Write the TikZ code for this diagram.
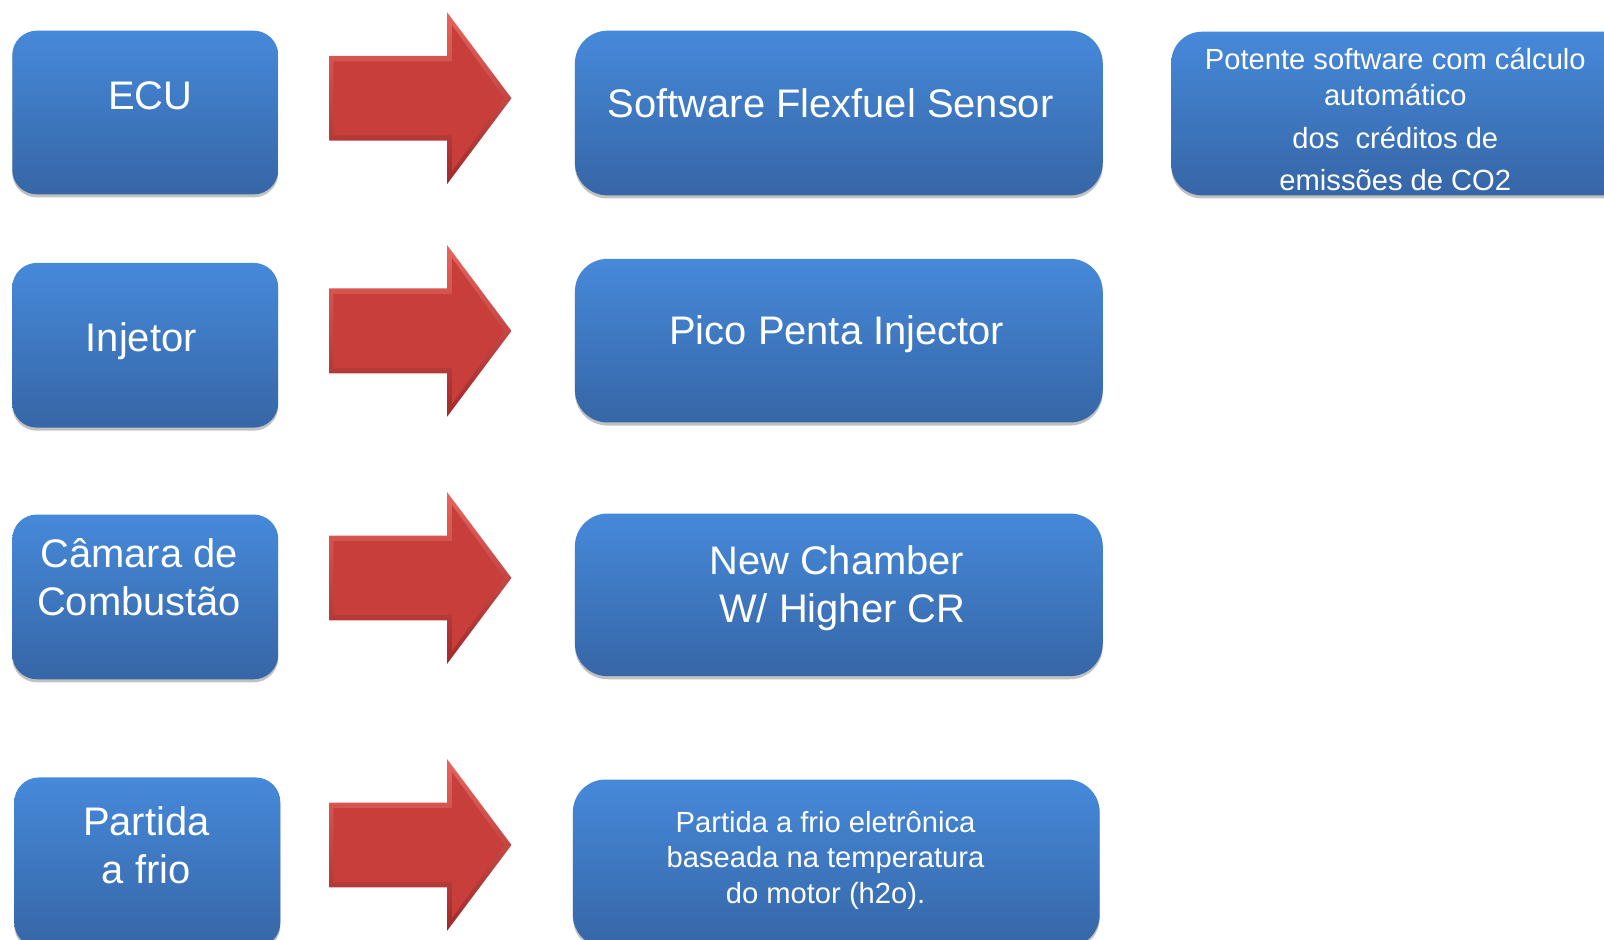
\documentclass[tikz,border=0pt]{standalone}
\usepackage{fontspec}
\setmainfont{Liberation Sans}
\usetikzlibrary{shadows}

\definecolor{boxtop}{RGB}{70,137,218}
\definecolor{boxbot}{RGB}{54,102,166}
\definecolor{arrtop}{RGB}{232,100,94}
\definecolor{arrbot}{RGB}{160,42,42}
\definecolor{arrmid}{RGB}{199,62,59}

\tikzset{
  panel/.style={rectangle, rounded corners=#1, draw=none, inner sep=0pt,
    top color=boxtop, bottom color=boxbot,
    drop shadow={shadow xshift=0pt, shadow yshift=-3pt, opacity=0.35, fill=black!70}},
  panel/.default=24pt,
  bigtxt/.style={text=white, align=center, inner sep=0pt,
    font=\fontsize{39}{47}\selectfont},
  smalltxt/.style={text=white, align=center, inner sep=0pt,
    font=\fontsize{28.5}{35}\selectfont},
  redarrow/.pic={
    \shade[top color=arrtop, bottom color=arrbot]
      (-89,-41.5) -- (26,-41.5) -- (26,-84) -- (89,0) -- (26,84) -- (26,41.5) -- (-89,41.5) -- cycle;
    \fill[arrmid]
      (-85,-36) -- (31,-36) -- (31,-71) -- (82,0) -- (31,71) -- (31,36) -- (-85,36) -- cycle;
  }
}

\begin{document}
\begin{tikzpicture}[x=1pt, y=-1pt]
  \useasboundingbox (0,0) rectangle (1568,918);
  \clip (0,0) rectangle (1568,918);

  % left column: current parts
  \node[panel, minimum width=260pt, minimum height=160pt] (ecu) at (142,110) {};
  \node[panel, minimum width=260pt, minimum height=161pt] (inj) at (142,337.5) {};
  \node[panel, minimum width=260pt, minimum height=161pt] (cam) at (142,583.5) {};
  \node[panel, minimum width=260pt, minimum height=166pt] (par) at (144,843) {};

  \node[bigtxt] (ecu-t) at (147,94) {ECU};
  \node[bigtxt] (inj-t) at (138,334) {Injetor};
  \node[bigtxt] (cam-t) at (136,564) {Câmara de\\Combustão};
  \node[bigtxt] (par-t) at (143,826) {Partida\\a frio};

  % block arrows
  \pic at (411,96) {redarrow};
  \pic at (411,323.5) {redarrow};
  \pic at (411,565) {redarrow};
  \pic at (411,826) {redarrow};

  % middle column: new parts
  \node[panel=32pt, minimum width=516pt, minimum height=161pt] (sfs) at (820,110.5) {};
  \node[panel=32pt, minimum width=516pt, minimum height=160pt] (pico) at (820,333) {};
  \node[panel=32pt, minimum width=516pt, minimum height=159pt] (newc) at (820,581.5) {};
  \node[panel=32pt, minimum width=515pt, minimum height=164pt] (cold) at (817.5,844) {};

  \node[bigtxt] (sfs-t) at (812,101) {Software Flexfuel Sensor};
  \node[bigtxt] (pico-t) at (818,327) {Pico Penta Injector};
  \node[bigtxt] (newc-t) at (818,575) {New Chamber\\\hspace*{0.278em}W/ Higher CR};
  \node[smalltxt] (cold-t) at (807,841) {Partida a frio eletrônica\\baseada na temperatura\\do motor (h2o).};

  % right column: note
  \node[panel=30pt, minimum width=455pt, minimum height=160pt] (pot) at (1372.5,111) {};
  \node[smalltxt] (pot-t) at (1364,116.5) {Potente software com cálculo\\automático\\[7pt]dos\ \ créditos de\\[6pt]emissões de CO2};
\end{tikzpicture}
\end{document}
